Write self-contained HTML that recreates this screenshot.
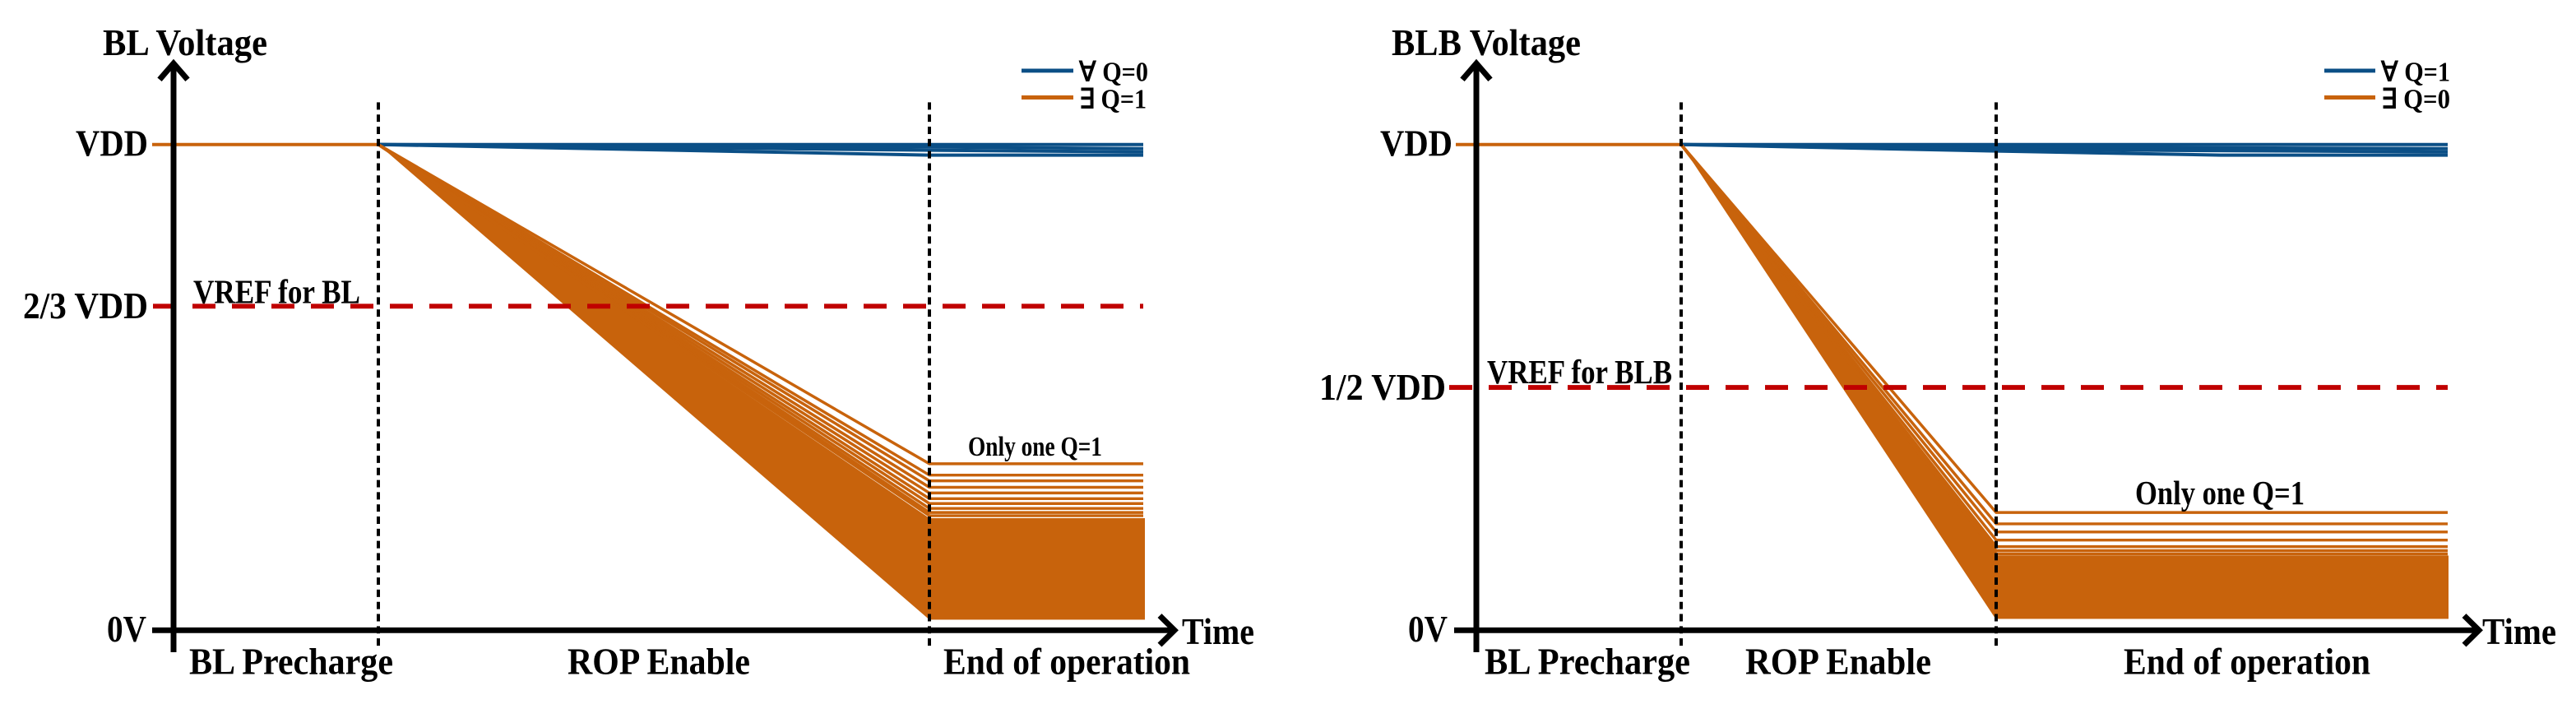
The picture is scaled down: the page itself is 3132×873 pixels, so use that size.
<!DOCTYPE html>
<html><head><meta charset="utf-8"><style>
html,body{margin:0;padding:0;background:#fff;}
svg{display:block;}
text{font-family:"Liberation Serif",serif;font-weight:bold;fill:#000;}
</style></head><body>
<svg width="3132" height="873" viewBox="0 0 3132 873" xmlns="http://www.w3.org/2000/svg">
<g transform="scale(1,0.9875)">
<!-- LEFT PANEL -->
<g>
  <line x1="185" y1="178" x2="460" y2="178" stroke="#C8630C" stroke-width="4"/>
  <g stroke="#0B4F86" stroke-width="4" fill="none">
    <polyline points="460,178 1130,178 1390,178"/>
    <polyline points="460,178 1130,181 1390,183"/>
    <polyline points="460,178 1130,185 1390,187"/>
    <polyline points="460,178 1130,191 1390,191"/>
  </g>
  <polygon points="460,178 1130,638 1130,763 460,178" fill="#C8630C"/>
  <rect x="1130" y="638" width="262" height="125" fill="#C8630C"/>
  <g stroke="#C8630C" stroke-width="3.5" fill="none">
    <polyline points="460,178 1130,571 1390,571"/>
    <polyline points="460,178 1130,585 1390,585"/>
    <polyline points="460,178 1130,592 1390,592"/>
    <polyline points="460,178 1130,600 1390,600"/>
    <polyline points="460,178 1130,607 1390,607"/>
    <polyline points="460,178 1130,614 1390,614"/>
    <polyline points="460,178 1130,620 1390,620"/>
    <polyline points="460,178 1130,626 1390,626"/>
    <polyline points="460,178 1130,631 1390,631"/>
    <polyline points="460,178 1130,635 1390,635"/>
  </g>
  <line x1="186" y1="377" x2="1390" y2="377" stroke="#C00000" stroke-width="6" stroke-dasharray="28 20"/>
  <line x1="460" y1="126" x2="460" y2="800" stroke="#000" stroke-width="4" stroke-dasharray="9 6"/>
  <line x1="1130" y1="126" x2="1130" y2="800" stroke="#000" stroke-width="4" stroke-dasharray="9 6"/>
  <line x1="211" y1="80" x2="211" y2="803" stroke="#000" stroke-width="7"/>
  <polyline points="194,98 211,78 228,98" stroke="#000" stroke-width="7" fill="none"/>
  <line x1="185" y1="776" x2="1426" y2="776" stroke="#000" stroke-width="7"/>
  <polyline points="1410,758 1428,776 1410,794" stroke="#000" stroke-width="7" fill="none"/>
  <line x1="1242" y1="87" x2="1305" y2="87" stroke="#0B4F86" stroke-width="5"/>
  <line x1="1242" y1="120" x2="1305" y2="120" stroke="#C8630C" stroke-width="5"/>
  <text x="1312" y="100" font-size="34" textLength="84" lengthAdjust="spacingAndGlyphs">∀ Q=0</text>
  <text x="1312" y="133" font-size="34" textLength="82" lengthAdjust="spacingAndGlyphs">∃ Q=1</text>
  <text x="125" y="68" font-size="46" textLength="200" lengthAdjust="spacingAndGlyphs">BL Voltage</text>
  <text x="92" y="192" font-size="46" textLength="88" lengthAdjust="spacingAndGlyphs">VDD</text>
  <text x="28" y="392" font-size="46" textLength="152" lengthAdjust="spacingAndGlyphs">2/3 VDD</text>
  <text x="130" y="790" font-size="46" textLength="48" lengthAdjust="spacingAndGlyphs">0V</text>
  <text x="235" y="373" font-size="42" textLength="203" lengthAdjust="spacingAndGlyphs">VREF for BL</text>
  <text x="1177" y="561" font-size="34" textLength="163" lengthAdjust="spacingAndGlyphs">Only one Q=1</text>
  <text x="1437" y="793" font-size="46" textLength="88" lengthAdjust="spacingAndGlyphs">Time</text>
  <text x="230" y="830" font-size="46" textLength="248" lengthAdjust="spacingAndGlyphs">BL Precharge</text>
  <text x="690" y="830" font-size="46" textLength="222" lengthAdjust="spacingAndGlyphs">ROP Enable</text>
  <text x="1147" y="830" font-size="46" textLength="300" lengthAdjust="spacingAndGlyphs">End of operation</text>
</g>
<!-- RIGHT PANEL -->
<g>
  <line x1="1770" y1="178" x2="2044" y2="178" stroke="#C8630C" stroke-width="4"/>
  <g stroke="#0B4F86" stroke-width="4" fill="none">
    <polyline points="2044,178 2427,178 2976,178"/>
    <polyline points="2044,178 2427,181 2976,183"/>
    <polyline points="2044,178 2427,184 2976,187"/>
    <polyline points="2044,178 2427,186 2700,191 2976,191"/>
  </g>
  <polygon points="2044,178 2427,684 2427,763 2044,178" fill="#C8630C"/>
  <rect x="2427" y="684" width="550" height="78" fill="#C8630C"/>
  <g stroke="#C8630C" stroke-width="3.5" fill="none">
    <polyline points="2044,178 2427,631 2976,631"/>
    <polyline points="2044,178 2427,645 2976,645"/>
    <polyline points="2044,178 2427,655 2976,655"/>
    <polyline points="2044,178 2427,665 2976,665"/>
    <polyline points="2044,178 2427,673 2976,673"/>
    <polyline points="2044,178 2427,678 2976,678"/>
    <polyline points="2044,178 2427,682 2976,682"/>
  </g>
  <line x1="1762" y1="477" x2="2976" y2="477" stroke="#C00000" stroke-width="6" stroke-dasharray="28 20"/>
  <line x1="2044" y1="126" x2="2044" y2="800" stroke="#000" stroke-width="4" stroke-dasharray="9 6"/>
  <line x1="2427" y1="126" x2="2427" y2="800" stroke="#000" stroke-width="4" stroke-dasharray="9 6"/>
  <line x1="1795" y1="80" x2="1795" y2="803" stroke="#000" stroke-width="7"/>
  <polyline points="1778,98 1795,78 1812,98" stroke="#000" stroke-width="7" fill="none"/>
  <line x1="1768" y1="776" x2="3012" y2="776" stroke="#000" stroke-width="7"/>
  <polyline points="2996,758 3014,776 2996,794" stroke="#000" stroke-width="7" fill="none"/>
  <line x1="2826" y1="87" x2="2888" y2="87" stroke="#0B4F86" stroke-width="5"/>
  <line x1="2826" y1="120" x2="2888" y2="120" stroke="#C8630C" stroke-width="5"/>
  <text x="2895" y="100" font-size="34" textLength="84" lengthAdjust="spacingAndGlyphs">∀ Q=1</text>
  <text x="2895" y="133" font-size="34" textLength="84" lengthAdjust="spacingAndGlyphs">∃ Q=0</text>
  <text x="1692" y="68" font-size="46" textLength="230" lengthAdjust="spacingAndGlyphs">BLB Voltage</text>
  <text x="1678" y="192" font-size="46" textLength="88" lengthAdjust="spacingAndGlyphs">VDD</text>
  <text x="1604" y="492" font-size="46" textLength="154" lengthAdjust="spacingAndGlyphs">1/2 VDD</text>
  <text x="1712" y="790" font-size="46" textLength="48" lengthAdjust="spacingAndGlyphs">0V</text>
  <text x="1808" y="472" font-size="42" textLength="225" lengthAdjust="spacingAndGlyphs">VREF for BLB</text>
  <text x="2596" y="621" font-size="42" textLength="206" lengthAdjust="spacingAndGlyphs">Only one Q=1</text>
  <text x="3018" y="793" font-size="46" textLength="90" lengthAdjust="spacingAndGlyphs">Time</text>
  <text x="1805" y="830" font-size="46" textLength="250" lengthAdjust="spacingAndGlyphs">BL Precharge</text>
  <text x="2122" y="830" font-size="46" textLength="226" lengthAdjust="spacingAndGlyphs">ROP Enable</text>
  <text x="2582" y="830" font-size="46" textLength="300" lengthAdjust="spacingAndGlyphs">End of operation</text>
</g>
</g>
</svg>
</body></html>
